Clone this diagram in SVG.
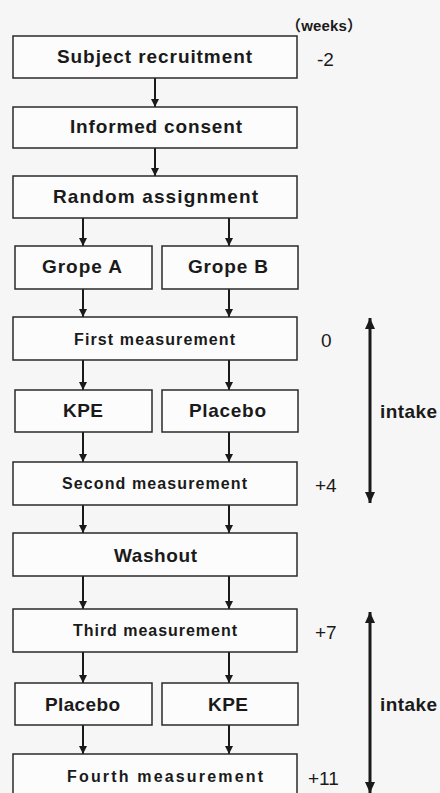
<svg xmlns="http://www.w3.org/2000/svg" width="440" height="793" viewBox="0 0 440 793">
<defs>
<style>
.box{fill:#fcfcfc;stroke:#2a2a2a;stroke-width:1.5}
.t{font-family:"Liberation Sans",Arial,"Noto Sans CJK SC",sans-serif;font-weight:bold;fill:#1a1a1a;text-anchor:start}
.big{font-size:19px}
.mid{font-size:16px}
.num{font-family:"Liberation Sans",Arial,sans-serif;font-size:19px;fill:#1a1a1a}
.ln{stroke:#1a1a1a;stroke-width:2;fill:none}
.lnb{stroke:#1a1a1a;stroke-width:3;fill:none}
</style>
<marker id="ah" markerUnits="userSpaceOnUse" markerWidth="8" markerHeight="8" viewBox="0 0 8 8" refX="8" refY="4" orient="auto">
<path d="M0,0 L8,4 L0,8 Z" fill="#1a1a1a"/>
</marker>
<marker id="ahb" markerUnits="userSpaceOnUse" markerWidth="11" markerHeight="10" viewBox="0 0 11 10" refX="11" refY="5" orient="auto-start-reverse">
<path d="M0,0 L11,5 L0,10 Z" fill="#1a1a1a"/>
</marker>
</defs>
<rect x="0" y="0" width="440" height="793" fill="#f6f6f6"/>

<g id="connectors">
<line class="ln" x1="155" y1="78" x2="155" y2="107" marker-end="url(#ah)"/>
<line class="ln" x1="155" y1="148" x2="155" y2="176" marker-end="url(#ah)"/>
<line class="ln" x1="83" y1="218" x2="83" y2="246" marker-end="url(#ah)"/>
<line class="ln" x1="229" y1="218" x2="229" y2="246" marker-end="url(#ah)"/>
<line class="ln" x1="83" y1="289" x2="83" y2="317" marker-end="url(#ah)"/>
<line class="ln" x1="229" y1="289" x2="229" y2="317" marker-end="url(#ah)"/>
<line class="ln" x1="83" y1="360" x2="83" y2="390" marker-end="url(#ah)"/>
<line class="ln" x1="229" y1="360" x2="229" y2="390" marker-end="url(#ah)"/>
<line class="ln" x1="83" y1="432" x2="83" y2="462" marker-end="url(#ah)"/>
<line class="ln" x1="229" y1="432" x2="229" y2="462" marker-end="url(#ah)"/>
<line class="ln" x1="83" y1="505" x2="83" y2="533" marker-end="url(#ah)"/>
<line class="ln" x1="229" y1="505" x2="229" y2="533" marker-end="url(#ah)"/>
<line class="ln" x1="83" y1="576" x2="83" y2="609" marker-end="url(#ah)"/>
<line class="ln" x1="229" y1="576" x2="229" y2="609" marker-end="url(#ah)"/>
<line class="ln" x1="83" y1="652" x2="83" y2="683" marker-end="url(#ah)"/>
<line class="ln" x1="229" y1="652" x2="229" y2="683" marker-end="url(#ah)"/>
<line class="ln" x1="83" y1="725" x2="83" y2="754" marker-end="url(#ah)"/>
<line class="ln" x1="229" y1="725" x2="229" y2="754" marker-end="url(#ah)"/>
<line class="lnb" x1="370" y1="318" x2="370" y2="503" marker-start="url(#ahb)" marker-end="url(#ahb)"/>
<line class="lnb" x1="370" y1="612" x2="370" y2="793" marker-start="url(#ahb)" marker-end="url(#ahb)"/>
</g>

<g id="n-subject"><rect class="box" x="13" y="36" width="284" height="42"/><text class="t big" x="57" y="63" textLength="195" lengthAdjust="spacing">Subject recruitment</text></g>
<g id="n-consent"><rect class="box" x="13" y="107" width="284" height="41"/><text class="t big" x="70" y="133" textLength="172" lengthAdjust="spacing">Informed consent</text></g>
<g id="n-random"><rect class="box" x="13" y="176" width="284" height="42"/><text class="t big" x="53" y="203" textLength="205" lengthAdjust="spacing">Random assignment</text></g>
<g id="n-gropeA"><rect class="box" x="15" y="246" width="137" height="43"/><text class="t big" x="42" y="273" textLength="80" lengthAdjust="spacing">Grope A</text></g>
<g id="n-gropeB"><rect class="box" x="162" y="246" width="136" height="43"/><text class="t big" x="188" y="273" textLength="80" lengthAdjust="spacing">Grope B</text></g>
<g id="n-first"><rect class="box" x="13" y="317" width="284" height="43"/><text class="t mid" x="74" y="344.5" textLength="161" lengthAdjust="spacing">First measurement</text></g>
<g id="n-kpe1"><rect class="box" x="15" y="390" width="137" height="42"/><text class="t big" x="63" y="417" textLength="40" lengthAdjust="spacing">KPE</text></g>
<g id="n-placebo1"><rect class="box" x="162" y="390" width="136" height="42"/><text class="t big" x="189" y="417" textLength="77" lengthAdjust="spacing">Placebo</text></g>
<g id="n-second"><rect class="box" x="13" y="462" width="284" height="43"/><text class="t mid" x="62" y="489" textLength="185" lengthAdjust="spacing">Second measurement</text></g>
<g id="n-washout"><rect class="box" x="13" y="533" width="284" height="43"/><text class="t big" x="114" y="562" textLength="83" lengthAdjust="spacing">Washout</text></g>
<g id="n-third"><rect class="box" x="13" y="609" width="284" height="43"/><text class="t mid" x="73" y="636" textLength="164" lengthAdjust="spacing">Third measurement</text></g>
<g id="n-placebo2"><rect class="box" x="15" y="683" width="137" height="42"/><text class="t big" x="45" y="711" textLength="75" lengthAdjust="spacing">Placebo</text></g>
<g id="n-kpe2"><rect class="box" x="162" y="683" width="136" height="42"/><text class="t big" x="208" y="711" textLength="40" lengthAdjust="spacing">KPE</text></g>
<g id="n-fourth"><rect class="box" x="13" y="754" width="284" height="45"/><text class="t mid" x="67" y="782" textLength="196" lengthAdjust="spacing">Fourth measurement</text></g>

<g id="labels">
<text class="t" x="286" y="31" style="font-size:15px" textLength="76" lengthAdjust="spacing">（weeks）</text>
<text class="num" x="317" y="66">-2</text>
<text class="num" x="321" y="347">0</text>
<text class="num" x="315" y="492">+4</text>
<text class="num" x="315" y="639">+7</text>
<text class="num" x="308" y="785">+11</text>
<text class="t big" x="380" y="418" textLength="57" lengthAdjust="spacing">intake</text>
<text class="t big" x="380" y="711" textLength="57" lengthAdjust="spacing">intake</text>
</g>
</svg>
